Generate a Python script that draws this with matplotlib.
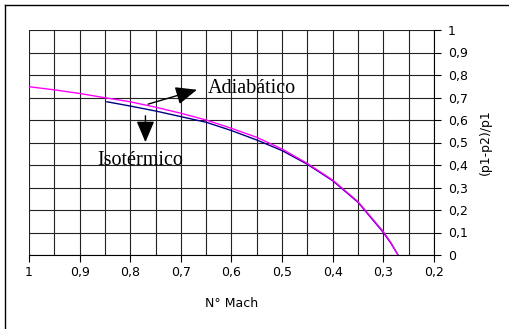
import matplotlib
matplotlib.use("Agg")
import matplotlib.pyplot as plt
from matplotlib.lines import Line2D
from matplotlib.ticker import MultipleLocator, FixedLocator

# Data
mach_adiab = [1.0, 0.95, 0.9, 0.85, 0.8, 0.75, 0.7, 0.65, 0.6, 0.55, 0.5, 0.45, 0.4, 0.35, 0.3, 0.285, 0.271]
dp_adiab   = [0.748, 0.734, 0.718, 0.699, 0.681, 0.657, 0.630, 0.600, 0.563, 0.523, 0.471, 0.407, 0.333, 0.237, 0.104, 0.055, 0.0]
mach_iso = [0.846, 0.8, 0.75, 0.7, 0.65, 0.6, 0.55, 0.5, 0.45, 0.4, 0.35, 0.3, 0.285, 0.271]
dp_iso   = [0.681, 0.662, 0.640, 0.615, 0.590, 0.553, 0.511, 0.464, 0.403, 0.330, 0.234, 0.100, 0.052, 0.0]

xticks = [1.0, 0.9, 0.8, 0.7, 0.6, 0.5, 0.4, 0.3, 0.2]
yticks = [0, 0.1, 0.2, 0.3, 0.4, 0.5, 0.6, 0.7, 0.8, 0.9, 1.0]

def fmt(v):
    return ("%g" % v).replace(".", ",")

W, H = 510, 329
fig = plt.figure(figsize=(W / 100, H / 100), dpi=100)
ax = fig.add_axes([29 / W, (H - 255) / H, 405 / W, 225 / H])

ax.set_xlim(1.0, 0.2)
ax.set_ylim(0, 1)

ax.xaxis.set_major_locator(FixedLocator(xticks))
ax.xaxis.set_minor_locator(MultipleLocator(0.05))
ax.yaxis.set_major_locator(FixedLocator(yticks))
ax.set_xticklabels([fmt(v) for v in xticks])
ax.set_yticklabels([fmt(v) for v in yticks])
ax.yaxis.tick_right()
ax.yaxis.set_label_position("right")

ax.grid(True, which="major", color="#222222", linewidth=0.8)
ax.grid(True, which="minor", axis="x", color="#222222", linewidth=0.8)
ax.tick_params(axis="both", which="major", direction="out", length=5, width=0.8,
               labelsize=9, colors="black", pad=3)
ax.tick_params(axis="x", which="minor", length=0)
ax.tick_params(axis="y", pad=5)
for sp in ["left", "top"]:
    ax.spines[sp].set_visible(False)
for sp in ["right", "bottom"]:
    ax.spines[sp].set_linewidth(0.8)

ax.plot(mach_iso, dp_iso, color="#000080", linewidth=1.0, zorder=3)
ax.plot(mach_adiab, dp_adiab, color="#ff00ff", linewidth=1.0, zorder=4)

ax.set_xlabel("N° Mach", fontsize=9, labelpad=13)
ax.set_ylabel("(p1-p2)/p1", fontsize=9, rotation=90, labelpad=8)

arrowprops = dict(arrowstyle="-|>,head_length=1.3,head_width=0.55", color="black", lw=1.0)
ax.annotate("", xy=(0.663, 0.738), xytext=(0.77, 0.667), arrowprops=arrowprops)
ax.annotate("", xy=(0.77, 0.489), xytext=(0.77, 0.631), arrowprops=arrowprops)
ax.text(0.56, 0.74, "Adiabático", fontsize=14.5, family="Liberation Serif",
        ha="center", va="center")
ax.text(0.781, 0.418, "Isotérmico", fontsize=14.5, family="Liberation Serif",
        ha="center", va="center")

# outer chart border (top and left visible)
fig.add_artist(Line2D([5 / W, 1.0], [1 - 5 / H, 1 - 5 / H], color="black", linewidth=1.0,
                      transform=fig.transFigure))
fig.add_artist(Line2D([5 / W, 5 / W], [0, 1 - 5 / H], color="black", linewidth=1.0,
                      transform=fig.transFigure))

fig.savefig("out.png", dpi=100)
